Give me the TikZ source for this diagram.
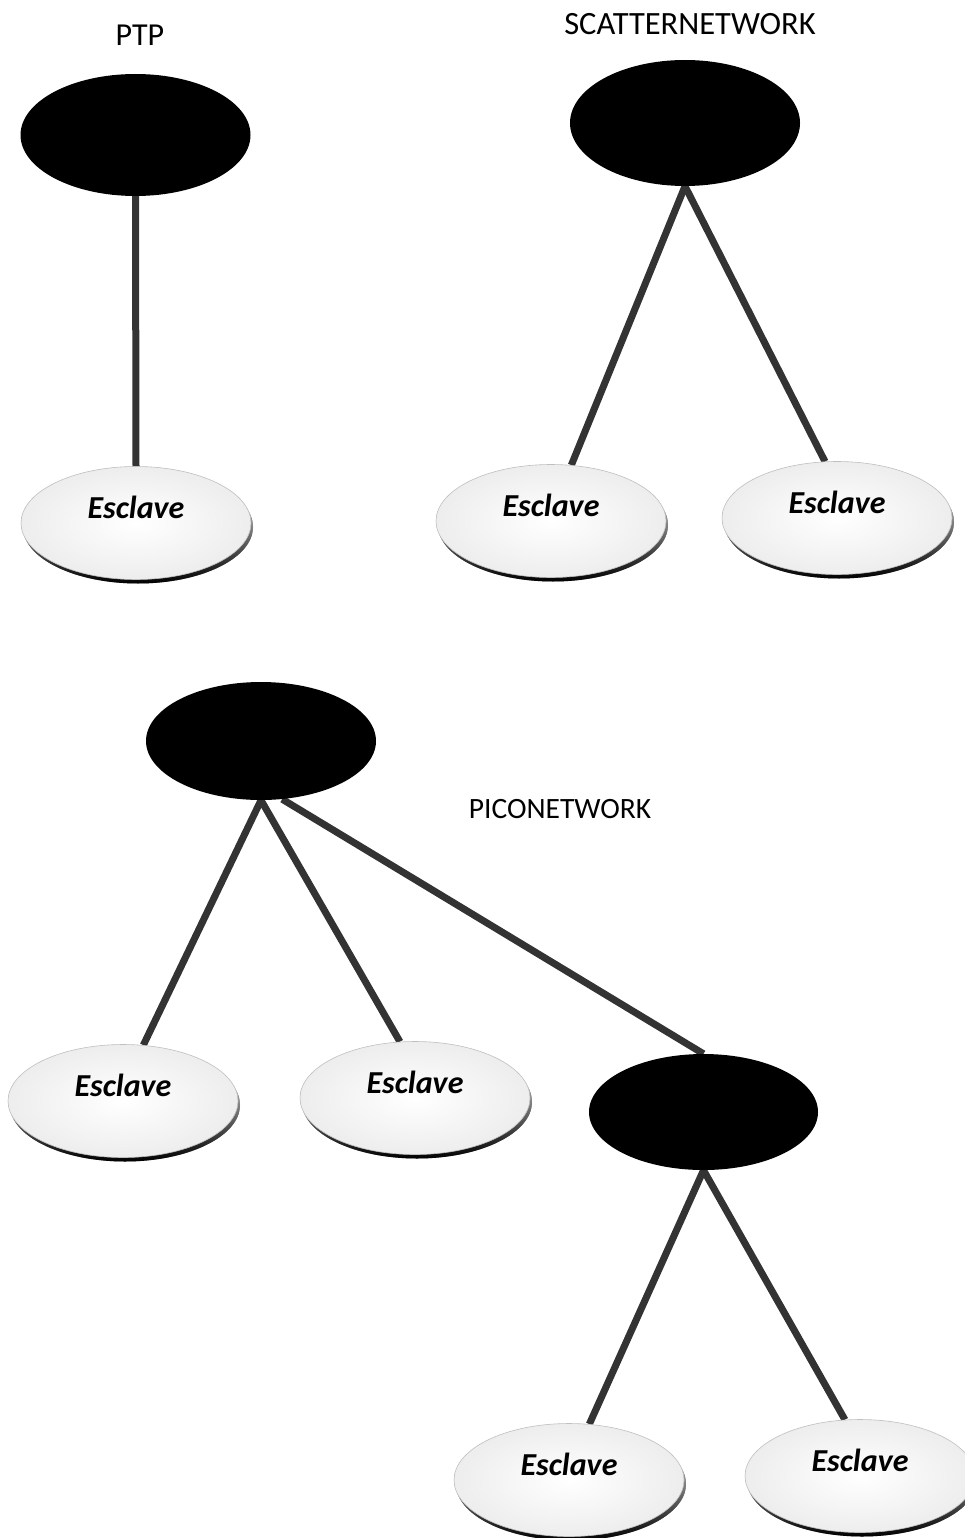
\documentclass[tikz,border=0pt]{standalone}
\usepackage{fontspec}
\setmainfont{Carlito}
\usetikzlibrary{shapes.geometric,shadows,backgrounds}
\begin{document}
\begin{tikzpicture}[x=1pt,y=-1pt,
  master/.style={ellipse,fill=black,minimum width=230pt,minimum height=122pt,inner sep=0pt},
  slave/.style={ellipse,draw=black!25,line width=0.6pt,inner color=white,outer color=black!7,
    minimum width=230pt,minimum height=113pt,inner sep=0pt,
    font=\fontsize{32}{34}\selectfont\bfseries\itshape,text height=14pt,text depth=24pt,
    drop shadow={shadow xshift=2pt,shadow yshift=-4pt,opacity=1,
      top color=white,middle color=black!25,bottom color=black}},
  link/.style={draw=black!80,line width=7pt},
  netlabel/.style={inner sep=0pt}
]
\useasboundingbox (0,0) rectangle (964,1538);

% titles
\node[netlabel,font=\fontsize{32}{34}\selectfont] (tptp) at (140,35) {PTP};
\node[netlabel,font=\fontsize{32.5}{34}\selectfont] (tscat) at (690,24) {SCATTERNETWORK};
\node[netlabel,font=\fontsize{29.5}{32}\selectfont] (tpico) at (560,809) {PICONETWORK};

% point to point
\node[master] (m1) at (135.5,135) {};
\node[slave] (s1) at (136,523) {Esclave};

% scatternet
\node[master,minimum height=126pt] (m2) at (685,123) {};
\node[slave] (s2a) at (551,521) {Esclave};
\node[slave] (s2b) at (837,518) {Esclave};

% piconet
\node[master,minimum height=118pt] (m3) at (261,741) {};
\node[slave] (s3a) at (123,1101) {Esclave};
\node[slave] (s3b) at (415,1098) {Esclave};
\node[master,minimum width=229pt,minimum height=116pt] (m4) at (703.5,1112) {};
\node[slave] (s4a) at (569,1480) {Esclave};
\node[slave] (s4b) at (860,1476) {Esclave};

% links
\begin{scope}[on background layer]
  \draw[link] (m1.south) -- (s1.north);
  \draw[link] (m2.south) -- (s2a.70);
  \draw[link] (m2.south) -- (s2b.102);
  \draw[link] (m3.south) -- (s3a.70);
  \draw[link] (m3.south) -- (s3b.105);
  \draw[link] (m3.-70) -- (m4.north);
  \draw[link] (m4.south) -- (s4a.70);
  \draw[link] (m4.south) -- (s4b.105);
\end{scope}
\end{tikzpicture}
\end{document}
